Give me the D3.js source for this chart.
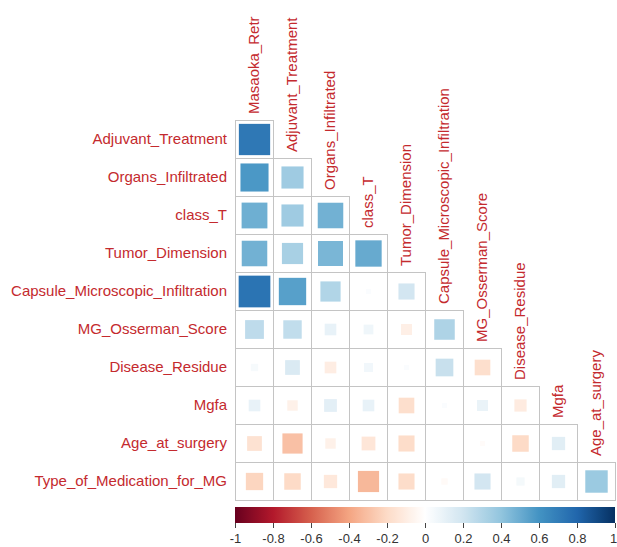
<!DOCTYPE html>
<html>
<head>
<meta charset="utf-8">
<script src="https://cdn.jsdelivr.net/npm/d3@7"></script>
<style>
  html, body { margin: 0; padding: 0; background: #ffffff; }
  svg { display: block; font-family: "Liberation Sans", Arial, sans-serif; }
</style>
</head>
<body>
<svg id="chart" width="617" height="547"></svg>
<script>
// Variables shown along the top (columns) and the left side (rows)
const colVars = ["Masaoka_Retr", "Adjuvant_Treatment", "Organs_Infiltrated", "class_T",
  "Tumor_Dimension", "Capsule_Microscopic_Infiltration", "MG_Osserman_Score",
  "Disease_Residue", "Mgfa", "Age_at_surgery"];
const rowVars = ["Adjuvant_Treatment", "Organs_Infiltrated", "class_T", "Tumor_Dimension",
  "Capsule_Microscopic_Infiltration", "MG_Osserman_Score", "Disease_Residue", "Mgfa",
  "Age_at_surgery", "Type_of_Medication_for_MG"];

// Lower-triangle correlation coefficients, one list per row
const rAdjuvant   = [0.72];
const rOrgans     = [0.58, 0.36];
const rClassT     = [0.49, 0.36, 0.48];
const rTumor      = [0.48, 0.33, 0.46, 0.51];
const rCapsule    = [0.74, 0.55, 0.30, 0.02, 0.19];
const rOsserman   = [0.26, 0.25, 0.10, 0.07, -0.09, 0.31];
const rResidue    = [0.04, 0.16, -0.10, 0.06, 0.02, 0.23, -0.18];
const rMgfa       = [0.10, -0.08, 0.12, 0.10, -0.18, 0.02, 0.09, -0.11];
const rAge        = [-0.16, -0.30, -0.08, -0.14, -0.19, 0.00, -0.02, -0.20, 0.13];
const rMedication = [-0.22, -0.20, -0.13, -0.33, -0.19, -0.03, 0.19, 0.05, 0.13, 0.37];
const corrRows = [rAdjuvant, rOrgans, rClassT, rTumor, rCapsule, rOsserman,
  rResidue, rMgfa, rAge, rMedication];

// Colour bar ticks and their labels
const legendTicks = [-1, -0.8, -0.6, -0.4, -0.2, 0, 0.2, 0.4, 0.6, 0.8, 1];
const legendLabels = ["-1", "-0.8", "-0.6", "-0.4", "-0.2", "0", "0.2", "0.4", "0.6", "0.8", "1"];

// Diverging red-white-blue palette
const paletteStops = ["#67001F", "#B2182B", "#D6604D", "#F4A582", "#FDDBC7", "#FFFFFF",
  "#D1E5F0", "#92C5DE", "#4393C3", "#2166AC", "#053061"];

const svg = d3.select("#chart");
const labelColor = "#c42a2e";
const gridColor = "#c4c4c4";

const x = d3.scaleBand().domain(colVars).range([235, 615]).padding(0);
const y = d3.scaleBand().domain(rowVars).range([120, 500]).padding(0);
const color = d3.scaleLinear()
  .domain(d3.range(paletteStops.length).map(i => -1 + 2 * i / (paletteStops.length - 1)))
  .range(paletteStops)
  .interpolate(d3.interpolateRgb);

const cells = [];
corrRows.forEach((vals, i) => {
  vals.forEach((r, j) => cells.push({ row: rowVars[i], col: colVars[j], r }));
});

// Cell outlines
svg.append("g").selectAll("rect")
  .data(cells)
  .join("rect")
  .attr("x", d => x(d.col) + 0.5)
  .attr("y", d => y(d.row) + 0.5)
  .attr("width", x.bandwidth())
  .attr("height", y.bandwidth())
  .attr("fill", "none")
  .attr("stroke", gridColor)
  .attr("stroke-width", 1);

// Squares: area proportional to |r|
const bw = x.bandwidth();
const side = r => Math.sqrt(Math.abs(r)) * bw * 0.97;
svg.append("g").selectAll("rect")
  .data(cells)
  .join("rect")
  .attr("x", d => x(d.col) + bw / 2 - side(d.r) / 2 + 0.5)
  .attr("y", d => y(d.row) + bw / 2 - side(d.r) / 2 + 0.5)
  .attr("width", d => side(d.r))
  .attr("height", d => side(d.r))
  .attr("fill", d => color(d.r));

// Row labels
svg.append("g").selectAll("text")
  .data(rowVars)
  .join("text")
  .attr("x", 227)
  .attr("y", d => y(d) + y.bandwidth() / 2)
  .attr("dy", "0.36em")
  .attr("text-anchor", "end")
  .attr("font-size", 15)
  .attr("fill", labelColor)
  .text(d => d);

// Column labels, rotated, sitting above the first cell of each column
svg.append("g").selectAll("text")
  .data(colVars)
  .join("text")
  .attr("transform", (d, j) =>
    `translate(${x(d) + bw / 2},${y(rowVars[j]) - 6}) rotate(-90)`)
  .attr("dy", "0.36em")
  .attr("text-anchor", "start")
  .attr("font-size", 15)
  .attr("fill", labelColor)
  .text(d => d);

// Colour bar
const lx = d3.scaleLinear().domain([-1, 1]).range([235, 615]);
const defs = svg.append("defs");
const grad = defs.append("linearGradient").attr("id", "cbar")
  .attr("x1", "0%").attr("x2", "100%").attr("y1", "0%").attr("y2", "0%");
grad.selectAll("stop")
  .data(d3.range(0, 101))
  .join("stop")
  .attr("offset", d => d + "%")
  .attr("stop-color", d => color(-1 + 2 * d / 100));

svg.append("rect")
  .attr("x", lx(-1))
  .attr("y", 507)
  .attr("width", lx(1) - lx(-1))
  .attr("height", 16)
  .attr("fill", "url(#cbar)");

const axis = svg.append("g")
  .attr("transform", "translate(0,523)")
  .call(d3.axisBottom(lx).tickValues(legendTicks).tickSize(5).tickPadding(6)
    .tickFormat((d, i) => legendLabels[i]));
axis.select(".domain").remove();
axis.selectAll(".tick line").attr("stroke", "#444");
axis.selectAll(".tick text")
  .attr("font-size", 13)
  .attr("font-family", "Liberation Sans, Arial, sans-serif")
  .attr("fill", "#333")
  .attr("dx", (d, i) => i === legendTicks.length - 1 ? -2 : 0);
</script>
</body>
</html>
